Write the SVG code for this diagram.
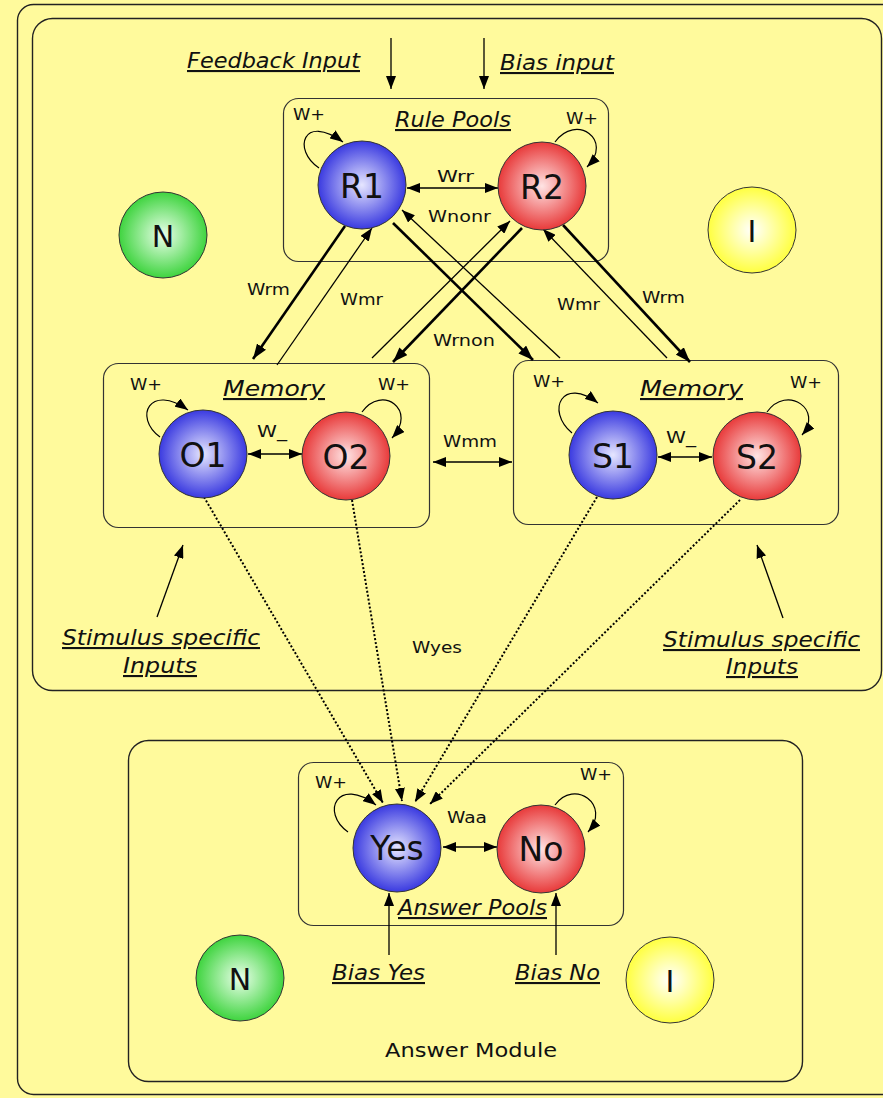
<svg xmlns="http://www.w3.org/2000/svg" width="883" height="1098" viewBox="0 0 883 1098">
<style>
.frame{fill:none;stroke:#222;stroke-width:1.4}
.box{fill:none;stroke:#333;stroke-width:1.2}
.node{stroke:#333;stroke-width:1}
.lbl{font-family:"DejaVu Sans",Verdana,sans-serif;font-size:33px;fill:#111;text-anchor:middle}
.w{font-family:"DejaVu Sans",Verdana,sans-serif;font-size:15px;fill:#111}
.it{font-family:"DejaVu Sans",Verdana,sans-serif;font-size:21px;font-style:italic;fill:#111;text-decoration:underline}
.plain{font-family:"DejaVu Sans",Verdana,sans-serif;font-size:20px;fill:#111}
.thick{stroke:#000;stroke-width:2.6;fill:none;marker-end:url(#ab)}
.thin{stroke:#000;stroke-width:1.3;fill:none;marker-end:url(#a)}
.dbl{stroke:#000;stroke-width:1.3;fill:none;marker-end:url(#a);marker-start:url(#a)}
.loop{stroke:#000;stroke-width:1.2;fill:none;marker-end:url(#a)}
.dot{stroke:#000;stroke-width:2;stroke-dasharray:2 2;fill:none;marker-end:url(#a)}
</style>
<defs>
<marker id="a" markerUnits="userSpaceOnUse" markerWidth="13" markerHeight="10" refX="13" refY="5" orient="auto-start-reverse"><path d="M0,0 L13,5 L0,10 z" fill="#000"/></marker>
<marker id="ab" markerUnits="userSpaceOnUse" markerWidth="15" markerHeight="11" refX="15" refY="5.5" orient="auto-start-reverse"><path d="M0,0 L15,5.5 L0,11 z" fill="#000"/></marker>
<radialGradient id="gb" cx="50%" cy="50%" r="50%"><stop offset="0" stop-color="#e6e6ff"/><stop offset="1" stop-color="#3a3ae0"/></radialGradient>
<radialGradient id="gr" cx="50%" cy="50%" r="50%"><stop offset="0" stop-color="#ffe4e4"/><stop offset="1" stop-color="#e83a3a"/></radialGradient>
<radialGradient id="gg" cx="50%" cy="50%" r="50%"><stop offset="0" stop-color="#eaffea"/><stop offset="1" stop-color="#3fd43f"/></radialGradient>
<radialGradient id="gy" cx="50%" cy="50%" r="50%"><stop offset="0" stop-color="#ffffff"/><stop offset="1" stop-color="#ffff40"/></radialGradient>
</defs>
<rect x="0" y="0" width="883" height="1098" fill="#fffa9c"/>
<g id="frames">
<rect class="frame" x="17.5" y="4.5" width="900" height="1090" rx="16"/>
<rect class="frame" x="32.5" y="18.5" width="849" height="672" rx="20"/>
<rect class="frame" x="128.5" y="740.5" width="674" height="341" rx="20"/>
</g>
<g id="rule-pools-box"><rect class="box" x="283.5" y="98.5" width="325" height="163" rx="15"/><text class="it" x="395" y="127" textLength="116" lengthAdjust="spacingAndGlyphs">Rule Pools</text></g>
<g id="memory-left-box"><rect class="box" x="103.5" y="363.5" width="326" height="164" rx="15"/><text class="it" x="223" y="396" textLength="102" lengthAdjust="spacingAndGlyphs">Memory</text></g>
<g id="memory-right-box"><rect class="box" x="513.5" y="360.5" width="325" height="164" rx="15"/><text class="it" x="640" y="396" textLength="103" lengthAdjust="spacingAndGlyphs">Memory</text></g>
<g id="answer-pools-box"><rect class="box" x="298.5" y="762.5" width="325" height="163" rx="15"/><text class="it" x="398" y="915" textLength="149" lengthAdjust="spacingAndGlyphs">Answer Pools</text></g>
<g id="connectors">
<line class="thin" x1="391" y1="38" x2="391" y2="89"/>
<line class="thin" x1="484" y1="38" x2="484" y2="89"/>
<line class="thick" x1="345" y1="226" x2="253" y2="359"/>
<line class="thin" x1="277" y1="365" x2="372" y2="228"/>
<line class="thin" x1="372" y1="358" x2="510" y2="221"/>
<line class="thick" x1="522" y1="228" x2="393" y2="362"/>
<line class="thick" x1="393" y1="223" x2="533" y2="360"/>
<line class="thin" x1="560" y1="358" x2="402" y2="210"/>
<line class="thin" x1="667" y1="358" x2="543" y2="229"/>
<line class="thick" x1="563" y1="225" x2="690" y2="362"/>
<line class="dbl" x1="407" y1="188" x2="498" y2="188"/>
<line class="dbl" x1="248" y1="454" x2="302" y2="454"/>
<line class="dbl" x1="433" y1="462" x2="512" y2="462"/>
<line class="dbl" x1="658" y1="457" x2="712" y2="457"/>
<line class="dbl" x1="443" y1="847" x2="497" y2="847"/>
<path class="loop" d="M319,168 C292,150 303,113 343,142"/>
<path class="loop" d="M555,142 C576,113 614,140 587,167"/>
<path class="loop" d="M160,437 C133,417 150,383 188,410"/>
<path class="loop" d="M362,412 C382,384 418,410 392,438"/>
<path class="loop" d="M572,433 C545,410 563,376 598,403"/>
<path class="loop" d="M767,412 C787,384 824,410 802,435"/>
<path class="loop" d="M348,832 C320,812 338,776 376,805"/>
<path class="loop" d="M555,805 C574,778 612,805 588,832"/>
<line class="dot" x1="204" y1="497" x2="383" y2="803"/>
<line class="dot" x1="352" y1="500" x2="402" y2="801"/>
<line class="dot" x1="597" y1="497" x2="415" y2="802"/>
<line class="dot" x1="740" y1="500" x2="430" y2="804"/>
<line class="thin" x1="157" y1="617" x2="183" y2="545"/>
<line class="thin" x1="783" y1="618" x2="757" y2="545"/>
<line class="thin" x1="389" y1="955" x2="389" y2="893"/>
<line class="thin" x1="556" y1="955" x2="556" y2="893"/>
</g>
<g id="labels">
<text class="it" x="187" y="68" textLength="173" lengthAdjust="spacingAndGlyphs">Feedback Input</text>
<text class="it" x="500" y="70" textLength="114" lengthAdjust="spacingAndGlyphs">Bias input</text>
<text class="w" x="293" y="120" textLength="32" lengthAdjust="spacingAndGlyphs">W+</text>
<text class="w" x="566" y="124" textLength="32" lengthAdjust="spacingAndGlyphs">W+</text>
<text class="w" x="437" y="182" textLength="37" lengthAdjust="spacingAndGlyphs">Wrr</text>
<text class="w" x="428" y="222" textLength="63" lengthAdjust="spacingAndGlyphs">Wnonr</text>
<text class="w" x="247" y="295" textLength="43" lengthAdjust="spacingAndGlyphs">Wrm</text>
<text class="w" x="340" y="305" textLength="43" lengthAdjust="spacingAndGlyphs">Wmr</text>
<text class="w" x="433" y="346" textLength="62" lengthAdjust="spacingAndGlyphs">Wrnon</text>
<text class="w" x="557" y="310" textLength="43" lengthAdjust="spacingAndGlyphs">Wmr</text>
<text class="w" x="642" y="303" textLength="43" lengthAdjust="spacingAndGlyphs">Wrm</text>
<text class="w" x="130" y="390" textLength="32" lengthAdjust="spacingAndGlyphs">W+</text>
<text class="w" x="378" y="390" textLength="32" lengthAdjust="spacingAndGlyphs">W+</text>
<text class="w" x="533" y="387" textLength="32" lengthAdjust="spacingAndGlyphs">W+</text>
<text class="w" x="790" y="388" textLength="32" lengthAdjust="spacingAndGlyphs">W+</text>
<text class="w" x="257" y="437" textLength="30" lengthAdjust="spacingAndGlyphs">W_</text>
<text class="w" x="666" y="443" textLength="30" lengthAdjust="spacingAndGlyphs">W_</text>
<text class="w" x="443" y="447" textLength="54" lengthAdjust="spacingAndGlyphs">Wmm</text>
<text class="w" x="412" y="653" textLength="50" lengthAdjust="spacingAndGlyphs">Wyes</text>
<text class="it" x="62" y="645" textLength="198" lengthAdjust="spacingAndGlyphs">Stimulus specific </text>
<text class="it" x="123" y="673" textLength="74" lengthAdjust="spacingAndGlyphs">Inputs</text>
<text class="it" x="663" y="647" textLength="197" lengthAdjust="spacingAndGlyphs">Stimulus specific </text>
<text class="it" x="726" y="674" textLength="72" lengthAdjust="spacingAndGlyphs">Inputs</text>
<text class="w" x="315" y="788" textLength="32" lengthAdjust="spacingAndGlyphs">W+</text>
<text class="w" x="580" y="780" textLength="32" lengthAdjust="spacingAndGlyphs">W+</text>
<text class="w" x="447" y="823" textLength="40" lengthAdjust="spacingAndGlyphs">Waa</text>
<text class="it" x="332" y="980" textLength="93" lengthAdjust="spacingAndGlyphs">Bias Yes</text>
<text class="it" x="515" y="980" textLength="85" lengthAdjust="spacingAndGlyphs">Bias No</text>
<text class="plain" x="385" y="1057" textLength="172" lengthAdjust="spacingAndGlyphs">Answer Module</text>
</g>
<g id="R1"><circle class="node" cx="362" cy="185" r="44" fill="url(#gb)"/><text class="lbl" x="362" y="198">R1</text></g>
<g id="R2"><circle class="node" cx="542" cy="186" r="44" fill="url(#gr)"/><text class="lbl" x="542" y="199">R2</text></g>
<g id="O1"><circle class="node" cx="203" cy="454" r="44" fill="url(#gb)"/><text class="lbl" x="203" y="467">O1</text></g>
<g id="O2"><circle class="node" cx="346" cy="456" r="44" fill="url(#gr)"/><text class="lbl" x="346" y="469">O2</text></g>
<g id="S1"><circle class="node" cx="613" cy="455" r="44" fill="url(#gb)"/><text class="lbl" x="613" y="468">S1</text></g>
<g id="S2"><circle class="node" cx="757" cy="456" r="44" fill="url(#gr)"/><text class="lbl" x="757" y="469">S2</text></g>
<g id="Yes"><circle class="node" cx="397" cy="848" r="44" fill="url(#gb)"/><text class="lbl" x="397" y="860">Yes</text></g>
<g id="No"><circle class="node" cx="541" cy="849" r="44" fill="url(#gr)"/><text class="lbl" x="541" y="861">No</text></g>
<g id="N-top"><ellipse class="node" cx="163" cy="235" rx="44" ry="43" fill="url(#gg)"/><text class="lbl" x="163" y="247" style="font-size:30px">N</text></g>
<g id="I-top"><ellipse class="node" cx="752" cy="230" rx="44" ry="43" fill="url(#gy)"/><text class="lbl" x="752" y="242" style="font-size:30px">I</text></g>
<g id="N-bottom"><ellipse class="node" cx="240" cy="978" rx="44" ry="43" fill="url(#gg)"/><text class="lbl" x="240" y="990" style="font-size:30px">N</text></g>
<g id="I-bottom"><ellipse class="node" cx="670" cy="980" rx="44" ry="43" fill="url(#gy)"/><text class="lbl" x="670" y="992" style="font-size:30px">I</text></g>
</svg>
